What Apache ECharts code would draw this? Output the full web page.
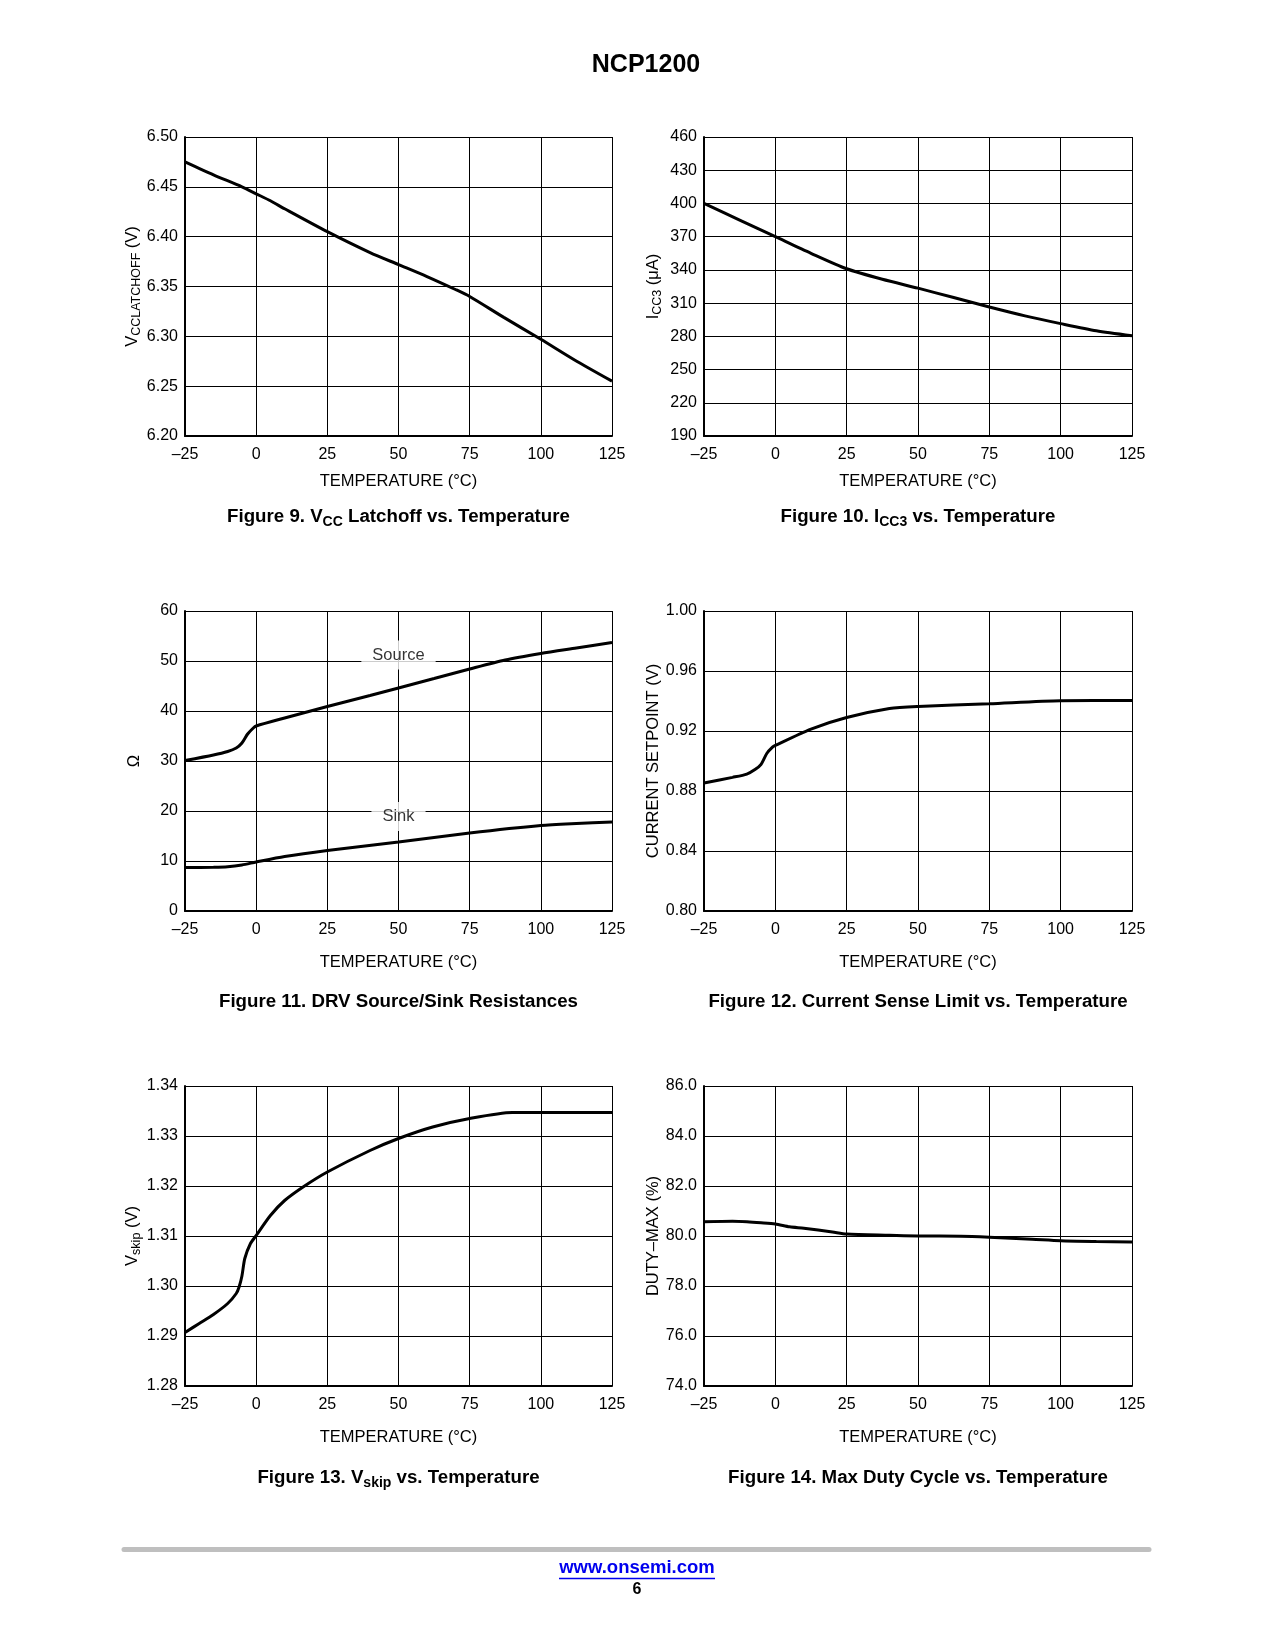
<!DOCTYPE html>
<html><head><meta charset="utf-8">
<script src="https://cdn.jsdelivr.net/npm/echarts@6/dist/echarts.min.js"></script>
<style>html,body{margin:0;padding:0;background:#fff;}#c{width:1275px;height:1650px;}</style>
</head><body><div id="c"></div>
<script>
// ---------- DATA ----------
const tempTicks = [-25, 0, 25, 50, 75, 100, 125];

// Figure 9: VCC latchoff (V)
const fig9Temp = [-25, -15, -5, 0, 5, 10, 25, 40, 50, 60, 70, 75, 87, 100, 112, 125];
const fig9Vcc  = [6.475, 6.462, 6.450, 6.443, 6.436, 6.428, 6.405, 6.384, 6.372, 6.360, 6.347, 6.340, 6.319, 6.297, 6.276, 6.255];

// Figure 10: ICC3 (uA)
const fig10Temp = [-25, -12.5, 0, 12.5, 25, 37.5, 50, 62.5, 75, 87.5, 100, 112.5, 125];
const fig10Icc  = [400, 385, 370, 355, 341, 331.5, 323.5, 315, 306.5, 298.5, 291.5, 285, 280.5];

// Figure 11: DRV source / sink resistance (ohm)
const fig11SourceTemp = [-25, -15, -10, -7, -5, -3, -1, 0, 10, 25, 40, 50, 62.5, 75, 87.5, 100, 112.5, 125];
const fig11Source     = [30.1, 31.2, 31.9, 32.6, 33.6, 35.4, 36.6, 37.0, 38.6, 40.9, 43.1, 44.6, 46.5, 48.4, 50.2, 51.5, 52.6, 53.7];
const fig11SinkTemp = [-25, -15, -10, -5, 0, 10, 25, 50, 75, 100, 112.5, 125];
const fig11Sink     = [8.7, 8.75, 8.85, 9.2, 9.8, 10.9, 12.1, 13.8, 15.6, 17.1, 17.5, 17.8];
const fig11LabelText = ['Source', 'Sink'];
const fig11LabelTemp = [50, 50];
const fig11LabelVal  = [51.2, 18.9];

// Figure 12: current setpoint (V)
const fig12Temp = [-25, -15, -10, -7, -5, -3, -1, 0, 12.5, 25, 40, 50, 75, 100, 125];
const fig12Set  = [0.8853, 0.8891, 0.8913, 0.8945, 0.8978, 0.9050, 0.9092, 0.9104, 0.9213, 0.929, 0.935, 0.9364, 0.9382, 0.9402, 0.9404];

// Figure 13: Vskip (V)
const fig13Temp = [-25, -20, -15, -10, -7, -6, -5, -4, -2, 0, 5, 10, 17, 25, 40, 50, 62, 75, 90, 100, 125];
const fig13Vskip = [1.2907, 1.2925, 1.2943, 1.2965, 1.2985, 1.2998, 1.3020, 1.3055, 1.3085, 1.3101, 1.3141, 1.3171, 1.3200, 1.3228, 1.3271, 1.3295, 1.3318, 1.3335, 1.3347, 1.3347, 1.3347];

// Figure 14: duty max (%)
const fig14Temp = [-25, -15, -10, -5, 0, 5, 10, 20, 25, 40, 50, 65, 75, 90, 100, 112.5, 125];
const fig14Duty = [80.57, 80.59, 80.57, 80.53, 80.48, 80.37, 80.31, 80.16, 80.08, 80.03, 80.00, 79.99, 79.95, 79.87, 79.81, 79.78, 79.76];

// ---------- CHART ----------
const FONT = '"Liberation Sans", Arial, Helvetica, sans-serif';
const zip = (a, b) => a.map((v, i) => [v, b[i]]);

const grids = [
  {left: 185, top: 137, width: 427, height: 299},
  {left: 704, top: 137, width: 428, height: 299},
  {left: 185, top: 611, width: 427, height: 300},
  {left: 704, top: 611, width: 428, height: 300},
  {left: 185, top: 1086, width: 427, height: 300},
  {left: 704, top: 1086, width: 428, height: 300}
];

const nameRich = {
  m: {fontFamily: FONT, fontSize: 16.5, color: '#000', lineHeight: 22, verticalAlign: 'middle'},
  s: {fontFamily: FONT, fontSize: 12.5, color: '#000', lineHeight: 12, verticalAlign: 'bottom'}
};

function xAx(i, gap) {
  return {
    type: 'value', gridIndex: i, min: -25, max: 125, interval: 25,
    name: 'TEMPERATURE (°C)', nameLocation: 'middle', nameGap: gap,
    nameTextStyle: {fontFamily: FONT, fontSize: 16.5, color: '#000', lineHeight: 20},
    axisLine: {show: true, onZero: false, lineStyle: {color: '#000', width: 2}},
    axisTick: {show: false},
    axisLabel: {color: '#000', fontFamily: FONT, fontSize: 16, margin: 11,
      formatter: v => String(v).replace('-', '\u2013')},
    splitLine: {show: true, lineStyle: {color: '#000', width: 1}}
  };
}
function yAx(i, min, max, interval, dec, name, gap) {
  return {
    type: 'value', gridIndex: i, min: min, max: max, interval: interval,
    name: name, nameLocation: 'middle', nameRotate: 90, nameGap: gap,
    nameTextStyle: {fontFamily: FONT, fontSize: 16.5, color: '#000', rich: nameRich},
    axisLine: {show: true, onZero: false, lineStyle: {color: '#000', width: 2}},
    axisTick: {show: false},
    axisLabel: {color: '#000', fontFamily: FONT, fontSize: 16, margin: 7,
      formatter: v => Number(v).toFixed(dec)},
    splitLine: {show: true, lineStyle: {color: '#000', width: 1}}
  };
}
function line(i, data) {
  return {
    type: 'line', xAxisIndex: i, yAxisIndex: i, data: data,
    symbol: 'none', showSymbol: false, smooth: 0.25,
    lineStyle: {color: '#000', width: 3}, silent: true, z: 3
  };
}

const captionRich = {
  b: {fontFamily: FONT, fontSize: 18.7, fontWeight: 'bold', lineHeight: 24, verticalAlign: 'middle', fill: '#000'},
  s: {fontFamily: FONT, fontSize: 14, fontWeight: 'bold', lineHeight: 14, verticalAlign: 'bottom', fill: '#000'}
};
function caption(x, y, text) {
  return {type: 'text', x: x, y: y, silent: true,
    style: {text: text, textAlign: 'center', textVerticalAlign: 'middle', fill: '#000', rich: captionRich}};
}

const option = {
  animation: false,
  backgroundColor: '#fff',
  grid: grids.map(g => Object.assign({containLabel: false}, g)),
  xAxis: [xAx(0, 35), xAx(1, 35), xAx(2, 41), xAx(3, 41), xAx(4, 41), xAx(5, 41)],
  yAxis: [
    yAx(0, 6.20, 6.50, 0.05, 2, '{m|V}{s|CCLATCHOFF}{m| (V)}', 40),
    yAx(1, 190, 460, 30, 0, '{m|I}{s|CC3}{m| (\u03bcA)}', 40),
    yAx(2, 0, 60, 10, 0, '{m|\u03a9}', 40),
    yAx(3, 0.80, 1.00, 0.04, 2, '{m|CURRENT SETPOINT (V)}', 40),
    yAx(4, 1.28, 1.34, 0.01, 2, '{m|V}{s|skip}{m| (V)}', 40),
    yAx(5, 74, 86, 2, 1, '{m|DUTY\u2013MAX (%)}', 40)
  ],
  series: [
    line(0, zip(fig9Temp, fig9Vcc)),
    line(1, zip(fig10Temp, fig10Icc)),
    line(2, zip(fig11SourceTemp, fig11Source)),
    line(2, zip(fig11SinkTemp, fig11Sink)),
    line(3, zip(fig12Temp, fig12Set)),
    line(4, zip(fig13Temp, fig13Vskip)),
    line(5, zip(fig14Temp, fig14Duty)),
    {
      type: 'scatter', xAxisIndex: 2, yAxisIndex: 2, silent: true, z: 4,
      data: zip(fig11LabelTemp, fig11LabelVal),
      symbolSize: 1, itemStyle: {color: 'rgba(0,0,0,0)'},
      label: {show: true, position: 'inside', formatter: p => fig11LabelText[p.dataIndex],
        color: '#000', fontFamily: FONT, fontSize: 16.5, backgroundColor: '#fff', padding: [6, 11]}
    }
  ],
  graphic: [
    {type: 'text', x: 646, y: 65, silent: true,
      style: {text: 'NCP1200', textAlign: 'center', textVerticalAlign: 'middle', fill: '#000',
        fontFamily: FONT, fontSize: 25, fontWeight: 'bold'}},
    caption(398.5, 517, '{b|Figure 9. V}{s|CC}{b| Latchoff vs. Temperature}'),
    caption(918, 517, '{b|Figure 10. I}{s|CC3}{b| vs. Temperature}'),
    caption(398.5, 1002, '{b|Figure 11. DRV Source/Sink Resistances}'),
    caption(918, 1002, '{b|Figure 12. Current Sense Limit vs. Temperature}'),
    caption(398.5, 1478, '{b|Figure 13. V}{s|skip}{b| vs. Temperature}'),
    caption(918, 1478, '{b|Figure 14. Max Duty Cycle vs. Temperature}'),
    {type: 'line', silent: true, shape: {x1: 124, y1: 1549.5, x2: 1149, y2: 1549.5},
      style: {stroke: '#bfbfbf', lineWidth: 5, lineCap: 'round'}},
    {type: 'text', x: 637, y: 1568, silent: true,
      style: {text: 'www.onsemi.com', textAlign: 'center', textVerticalAlign: 'middle', fill: '#0000ee',
        fontFamily: FONT, fontSize: 18.5, fontWeight: 'bold'}},
    {type: 'line', silent: true, shape: {x1: 559, y1: 1578.5, x2: 715, y2: 1578.5},
      style: {stroke: '#0000ee', lineWidth: 1.4}},
    {type: 'text', x: 637, y: 1590, silent: true,
      style: {text: '6', textAlign: 'center', textVerticalAlign: 'middle', fill: '#000',
        fontFamily: FONT, fontSize: 16, fontWeight: 'bold'}}
  ]
};

const chart = echarts.init(document.getElementById('c'), null, {renderer: 'canvas', width: 1275, height: 1650});
chart.setOption(option);
</script>
</body></html>
